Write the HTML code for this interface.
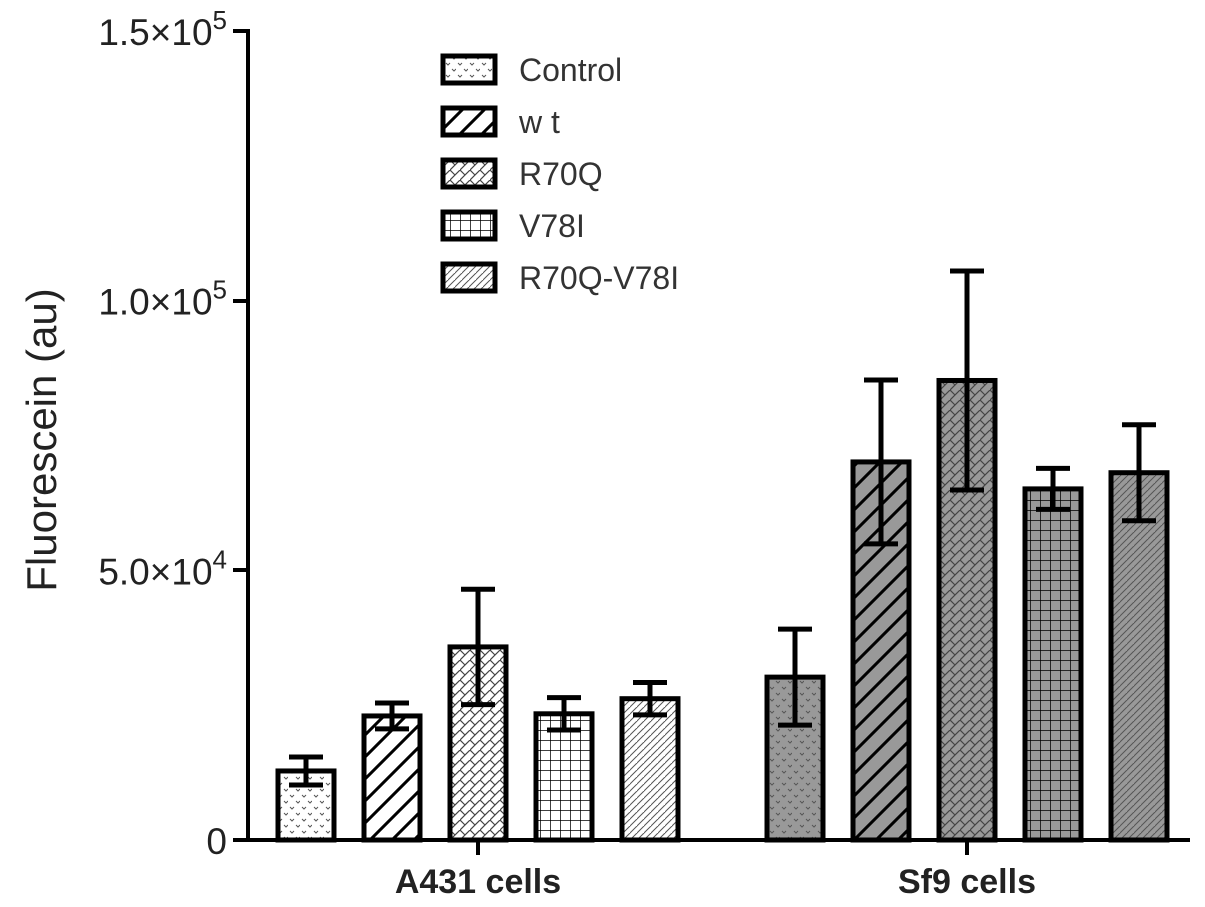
<!DOCTYPE html>
<html><head><meta charset="utf-8"><style>
body{margin:0;background:#fff}
svg{display:block;font-family:"Liberation Sans",sans-serif}
</style></head><body>
<svg id="chart" width="1205" height="907" viewBox="0 0 1205 907">
<defs>
<pattern id="p0" width="12" height="12" patternUnits="userSpaceOnUse"><path d="M2 3l2 2 2-2M8 9l2 2 2-2" stroke="#555" stroke-width="1" fill="none"/></pattern>
<pattern id="p1" width="22" height="22" patternUnits="userSpaceOnUse"><path d="M-5 27L27 -5M-16 16L16 -16M6 38L38 6" stroke="#000" stroke-width="3"/></pattern>
<pattern id="p2" width="10" height="10" patternUnits="userSpaceOnUse"><path d="M0 10L10 0M0 0l5 5" stroke="#444" stroke-width="1.2"/></pattern>
<pattern id="p3" width="10" height="10" patternUnits="userSpaceOnUse"><path d="M0 0H10M0 0V10" stroke="#000" stroke-width="1.5"/></pattern>
<pattern id="p4" width="7" height="7" patternUnits="userSpaceOnUse"><path d="M-2 9L9 -2M-2 2L2 -2" stroke="#555" stroke-width="1"/></pattern>
</defs>
<g id="plot"></g>
</svg>
<script>
const groups=["A431 cells","Sf9 cells"];
const series=["Control","w t","R70Q","V78I","R70Q-V78I"];
const a431=[12800,23000,35800,23400,26200];
const a431Err=[2600,2400,10700,3000,3000];
const sf9=[30200,70100,85200,65100,68100];
const sf9Err=[8900,15200,20300,3800,8900];
const yTicks=[0,50000,100000,150000];
const yTickBase=["0","5.0×10","1.0×10","1.5×10"];
const yTickExp=["","4","5","5"];
const NS="http://www.w3.org/2000/svg";
const g=document.getElementById('plot');
const y=v=>840-v/150000*809;
const groupX=[478,967];
const xBar=(gi,si)=>groupX[gi]+(si-2)*86;
function el(t,a,p){const e=document.createElementNS(NS,t);for(const k in a)e.setAttribute(k,a[k]);(p||g).appendChild(e);return e;}
const data=[a431,sf9],errs=[a431Err,sf9Err];
data.forEach((vals,gi)=>vals.forEach((v,si)=>{
  const cx=xBar(gi,si),w=56;
  const bg=el('rect',{x:cx-w/2,y:y(v),width:w,height:840-y(v),fill:gi?'#999':'#fff'});
  
  
  const r=el('rect',{x:cx-w/2,y:y(v),width:w,height:840-y(v),fill:'url(#p'+si+')',stroke:'#000','stroke-width':5});
  
  
  const e=errs[gi][si];
  const eb=el('path',{d:`M${cx} ${y(v+e)}V${y(v-e)}M${cx-17} ${y(v+e)}H${cx+17}M${cx-17} ${y(v-e)}H${cx+17}`,stroke:'#000','stroke-width':5,fill:'none'});
  
  
}));
const ax=el('path',{d:'M233 31H248V840M233 840H1190M233 570H248M233 301H248',stroke:'#000','stroke-width':4,fill:'none'});


yTicks.forEach((t,i)=>{
  const tx=el('text',{x:227,y:y(t)+14,'text-anchor':'end','font-size':37,fill:'#222'});
  
  
  const b=el('tspan',{},tx);b.textContent=yTickBase[i];
  if(yTickExp[i]){const s=el('tspan',{dy:-16,'font-size':26},tx);s.textContent=yTickExp[i];}
});
groups.forEach((n,i)=>{
  el('path',{d:`M${groupX[i]} 840V855`,stroke:'#000','stroke-width':4});
  const tx=el('text',{x:groupX[i],y:893,'text-anchor':'middle','font-size':34,'font-weight':'bold',fill:'#222'});
  tx.textContent=n;
  
  
});
const yt=el('text',{x:0,y:0,transform:'translate(56 440) rotate(-90)','text-anchor':'middle','font-size':42,fill:'#222'});
yt.textContent='Fluorescein (au)';


series.forEach((s,i)=>{
  const ly=69+i*52;
  const r=el('rect',{x:443,y:ly-13,width:52,height:27,fill:'url(#p'+i+')',stroke:'#000','stroke-width':5});
  
  
  const tx=el('text',{x:519,y:ly+12,'font-size':32,fill:'#333'});
  tx.textContent=s;
  
  
});
</script>
</body></html>
